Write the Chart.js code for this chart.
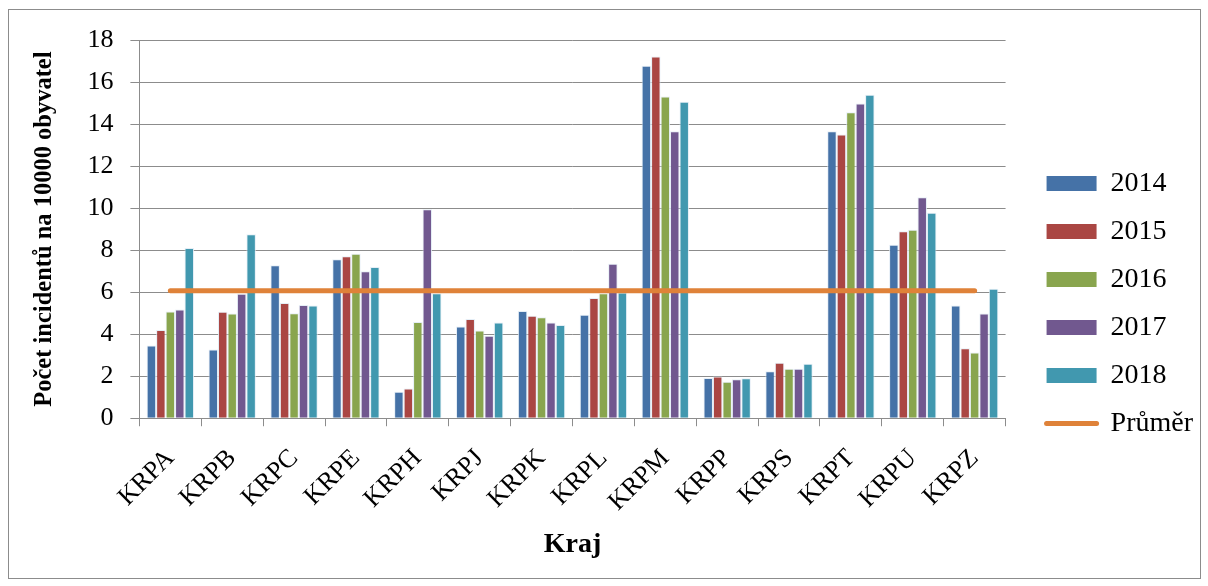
<!DOCTYPE html>
<html>
<head>
<meta charset="utf-8">
<script src="https://cdn.jsdelivr.net/npm/chart.js@4.4.1/dist/chart.umd.min.js"></script>
<style>
  html, body { margin: 0; padding: 0; background: #ffffff; }
  #wrap { position: relative; width: 1208px; height: 586px; }
  #frame { position: absolute; left: 8px; top: 9px; width: 1191px; height: 568px; border: 1px solid #8c8c8c; pointer-events: none; }
</style>
</head>
<body>
<div id="wrap">
  <canvas id="c" width="1208" height="586"></canvas>
  <div id="frame"></div>
</div>
<script>
const categories = ['KRPA','KRPB','KRPC','KRPE','KRPH','KRPJ','KRPK','KRPL','KRPM','KRPP','KRPS','KRPT','KRPU','KRPZ'];
const v2014 = [3.46, 3.27, 7.28, 7.57, 1.26, 4.37, 5.10, 4.93, 16.78, 1.91, 2.24, 13.66, 8.25, 5.36];
const v2015 = [4.20, 5.07, 5.48, 7.71, 1.42, 4.72, 4.88, 5.72, 17.22, 1.99, 2.64, 13.50, 8.90, 3.33];
const v2016 = [5.08, 4.98, 5.00, 7.83, 4.58, 4.17, 4.80, 5.95, 15.31, 1.74, 2.36, 14.56, 8.97, 3.13];
const v2017 = [5.18, 5.92, 5.39, 7.00, 9.95, 3.92, 4.56, 7.35, 13.66, 1.86, 2.36, 14.98, 10.52, 4.98];
const v2018 = [8.10, 8.75, 5.36, 7.20, 5.95, 4.55, 4.44, 5.98, 15.06, 1.90, 2.59, 15.40, 9.78, 6.16];
const prumer = [6.07, 6.07, 6.07, 6.07, 6.07, 6.07, 6.07, 6.07, 6.07, 6.07, 6.07, 6.07, 6.07, 6.07];
const yTicks = [0, 2, 4, 6, 8, 10, 12, 14, 16, 18];

const serif = "'Liberation Serif', 'Times New Roman', serif";
const colors = ['#4572A7', '#AA4643', '#89A54E', '#71588F', '#4198AF'];
const edge = 'rgba(225,235,245,0.85)';

function barSet(label, data, color) {
  return {
    type: 'bar', label, data,
    backgroundColor: color, borderColor: edge, borderWidth: 1,
    pointStyle: 'rect', order: 1,
    barPercentage: 1.0, categoryPercentage: 0.765
  };
}

new Chart(document.getElementById('c'), {
  data: {
    labels: categories,
    datasets: [
      barSet('2014', v2014, colors[0]),
      barSet('2015', v2015, colors[1]),
      barSet('2016', v2016, colors[2]),
      barSet('2017', v2017, colors[3]),
      barSet('2018', v2018, colors[4]),
      {
        type: 'line', label: 'Průměr', data: prumer,
        borderColor: '#DF8239', backgroundColor: '#DF8239',
        borderWidth: 5, borderCapStyle: 'round',
        pointRadius: 0, pointStyle: 'line', order: 0, tension: 0
      }
    ]
  },
  options: {
    responsive: false,
    animation: false,
    devicePixelRatio: 1,
    layout: { padding: { left: 30, right: 5, top: 40, bottom: 24 } },
    plugins: {
      tooltip: { enabled: false },
      legend: {
        position: 'right',
        title: { display: true, text: ' ', padding: 0, font: { size: 4 } },
        labels: {
          sort: (a, b) => a.datasetIndex - b.datasetIndex,
          usePointStyle: true,
          pointStyleWidth: 50,
          boxHeight: 15,
          padding: 20,
          color: '#000',
          font: { family: serif, size: 28 },
          generateLabels: (chart) => chart.data.datasets.map((ds, i) => ({
            text: ds.label,
            fillStyle: ds.type === 'line' ? 'transparent' : ds.backgroundColor,
            strokeStyle: ds.type === 'line' ? ds.borderColor : ds.backgroundColor,
            lineWidth: ds.type === 'line' ? 5 : 0,
            lineCap: 'round',
            pointStyle: ds.type === 'line' ? 'line' : 'rect',
            fontColor: '#000',
            hidden: false,
            datasetIndex: i
          }))
        }
      }
    },
    scales: {
      x: {
        grid: { display: true, offset: true, drawOnChartArea: false, color: '#8c8c8c', tickLength: 8, tickColor: '#8c8c8c' },
        border: { color: '#8c8c8c', width: 1 },
        ticks: { color: '#000', font: { family: serif, size: 26 }, minRotation: 45, maxRotation: 45, padding: 17 },
        title: { display: true, text: 'Kraj', color: '#000', font: { family: serif, size: 28, weight: 'bold' }, padding: { top: -6, bottom: 0 } }
      },
      y: {
        min: 0, max: 18,
        afterBuildTicks: (axis) => { axis.ticks = yTicks.map(v => ({ value: v })); },
        grid: { color: '#8c8c8c', lineWidth: 1, tickLength: 9, tickColor: '#8c8c8c' },
        border: { color: '#8c8c8c', width: 1 },
        ticks: { color: '#000', font: { family: serif, size: 26 }, padding: 17 },
        title: { display: true, text: 'Počet incidentů na 10000 obyvatel', color: '#000', font: { family: serif, size: 24.5, weight: 'bold' }, padding: { top: 0, bottom: 11 } }
      },
      gap: {
        type: 'linear', position: 'right', display: true,
        grid: { display: false }, border: { display: false }, ticks: { display: false },
        afterFit: (axis) => { axis.width = 21; }
      }
    }
  }
});
</script>
</body>
</html>
